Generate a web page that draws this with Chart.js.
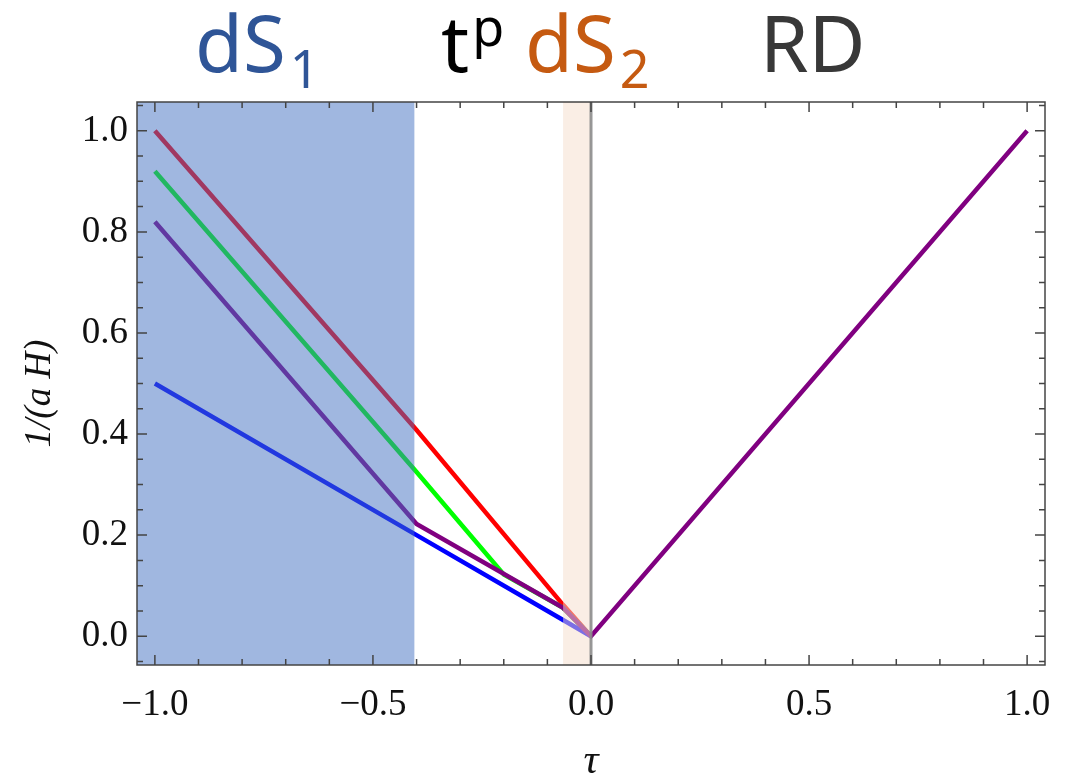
<!DOCTYPE html>
<html>
<head>
<meta charset="utf-8">
<script src="https://cdn.jsdelivr.net/npm/chart.js@4.4.1/dist/chart.umd.min.js"></script>
<style>
  body { margin: 0; background: #fff; }
  #wrap { width: 1076px; height: 781px; }
</style>
</head>
<body>
<div id="wrap"><canvas id="grafik"></canvas></div>
<script>
// curves: conformal time tau vs 1/(aH)
var redTau = [-1.0, -0.4, -0.064, 0.0];
var redVal = [1.0, 0.408, 0.062, 0.0];
var greenTau = [-1.0, -0.4, -0.2, -0.064, 0.0];
var greenVal = [0.92, 0.325, 0.122, 0.056, 0.0];
var purpleTau = [-1.0, -0.4, -0.064, 0.0, 1.0];
var purpleVal = [0.82, 0.222, 0.056, 0.0, 1.0];
var blueTau = [-1.0, -0.4, -0.064, 0.0];
var blueVal = [0.5, 0.2, 0.032, 0.0];

// phase boundaries
var dS1End = -0.405;
var dS2Start = -0.064;

var xTicks = [-1.0, -0.5, 0.0, 0.5, 1.0];
var yTicks = [0.0, 0.2, 0.4, 0.6, 0.8, 1.0];
var xMinor = [-1.0, -0.9, -0.8, -0.7, -0.6, -0.5, -0.4, -0.3, -0.2, -0.1, 0.0, 0.1, 0.2, 0.3, 0.4, 0.5, 0.6, 0.7, 0.8, 0.9, 1.0];
var yMinor = [-0.05, 0.0, 0.05, 0.1, 0.15, 0.2, 0.25, 0.3, 0.35, 0.4, 0.45, 0.5, 0.55, 0.6, 0.65, 0.7, 0.75, 0.8, 0.85, 0.9, 0.95, 1.0, 1.05];

function pts(xs, ys) {
	return xs.map(function (x, i) { return { x: x, y: ys[i] }; });
}

function fmt(v) {
	return (v < 0 ? '\u2212' : '') + Math.abs(v).toFixed(1);
}

var serif = '"Liberation Serif", "DejaVu Serif", serif';
var sans = '"Noto Sans", "Open Sans", sans-serif';

var overlay = {
	id: 'overlay',
	afterDatasetsDraw: function (chart) {
		var ctx = chart.ctx;
		var a = chart.chartArea;
		var xs = chart.scales.x, ys = chart.scales.y;

		ctx.save();
		// phase shading on top of the curves
		var xe = xs.getPixelForValue(dS1End);
		ctx.fillStyle = 'rgba(65, 111, 193, 0.5)';
		ctx.fillRect(a.left, a.top, xe - a.left, a.bottom - a.top);
		var x0 = xs.getPixelForValue(0);
		var xd = xs.getPixelForValue(dS2Start);
		ctx.fillStyle = 'rgba(246, 222, 204, 0.5)';
		ctx.fillRect(xd, a.top, x0 - xd, a.bottom - a.top);

		ctx.strokeStyle = 'rgba(140, 140, 140, 0.9)';
		ctx.lineWidth = 3;
		ctx.beginPath();
		ctx.moveTo(x0, a.top);
		ctx.lineTo(x0, a.bottom);
		ctx.stroke();

		// frame and ticks
		ctx.strokeStyle = '#444';
		ctx.lineWidth = 1.5;
		ctx.strokeRect(a.left, a.top, a.right - a.left, a.bottom - a.top);
		ctx.beginPath();
		xMinor.forEach(function (v) {
			var p = xs.getPixelForValue(v);
			var len = xTicks.indexOf(v) >= 0 ? 10 : 6;
			ctx.moveTo(p, a.bottom); ctx.lineTo(p, a.bottom - len);
			ctx.moveTo(p, a.top); ctx.lineTo(p, a.top + len);
		});
		yMinor.forEach(function (v) {
			var p = ys.getPixelForValue(v);
			var len = yTicks.indexOf(v) >= 0 ? 10 : 6;
			ctx.moveTo(a.left, p); ctx.lineTo(a.left + len, p);
			ctx.moveTo(a.right, p); ctx.lineTo(a.right - len, p);
		});
		ctx.stroke();

		// axis titles
		ctx.fillStyle = '#111';
		ctx.textAlign = 'center';
		ctx.textBaseline = 'middle';
		ctx.font = 'italic 42px ' + serif;
		ctx.fillText('\u03c4', (a.left + a.right) / 2, 762);
		ctx.font = 'italic 37px ' + serif;
		ctx.save();
		ctx.translate(40, (a.top + a.bottom) / 2 + 10);
		ctx.rotate(-Math.PI / 2);
		ctx.fillText('1/(a H)', 0, 0);
		ctx.restore();

		// phase labels above the plot
		function label(x, parts, color) {
			ctx.fillStyle = color;
			ctx.textAlign = 'left';
			ctx.textBaseline = 'alphabetic';
			parts.forEach(function (p) {
				var size = p.dy ? 52 : 78;
				ctx.font = size + 'px ' + sans;
				ctx.fillText(p.t, x, 72 + (p.dy || 0));
				x += ctx.measureText(p.t).width + (p.gap || 0);
			});
		}
		label(195, [{ t: 'dS', gap: 4 }, { t: '1', dy: 16 }], '#2f5597');
		label(441, [{ t: 't', gap: 3 }, { t: 'p', dy: -26 }], '#000');
		label(525, [{ t: 'dS', gap: 4 }, { t: '2', dy: 16 }], '#c55a11');
		label(760, [{ t: 'RD' }], '#383838');
		ctx.restore();
	}
};

var ctx = document.getElementById('grafik');
var chart = new Chart(ctx, {
	type: 'line',
	data: {
		datasets: [
			{ label: 'purple', data: pts(purpleTau, purpleVal), borderColor: '#800080' },
			{ label: 'blue', data: pts(blueTau, blueVal), borderColor: '#0000ff' },
			{ label: 'green', data: pts(greenTau, greenVal), borderColor: '#00ff00' },
			{ label: 'red', data: pts(redTau, redVal), borderColor: '#ff0000' }
		]
	},
	options: {
		responsive: true,
		maintainAspectRatio: false,
		animation: false,
		events: [],
		layout: { padding: { top: 102, right: 31, left: 0, bottom: 0 } },
		elements: {
			line: { borderWidth: 4.5, tension: 0, borderCapStyle: 'butt', borderJoinStyle: 'miter' },
			point: { radius: 0 }
		},
		plugins: { legend: { display: false }, tooltip: { enabled: false } },
		scales: {
			x: {
				type: 'linear',
				min: -1.041,
				max: 1.041,
				grid: { display: false, drawTicks: false },
				border: { display: false },
				afterBuildTicks: function (s) { s.ticks = xTicks.map(function (v) { return { value: v }; }); },
				afterFit: function (s) { s.height = 116; },
				ticks: {
					autoSkip: false,
					maxRotation: 0,
					padding: 18,
					color: '#111',
					font: { family: serif, size: 37 },
					callback: function (v) { return fmt(v); }
				}
			},
			y: {
				type: 'linear',
				min: -0.057,
				max: 1.057,
				grid: { display: false, drawTicks: false },
				border: { display: false },
				afterBuildTicks: function (s) { s.ticks = yTicks.map(function (v) { return { value: v }; }); },
				afterFit: function (s) { s.width = 137; },
				ticks: {
					autoSkip: false,
					padding: 9,
					color: '#111',
					font: { family: serif, size: 37 },
					callback: function (v) { return fmt(v); }
				}
			}
		}
	},
	plugins: [overlay]
});
</script>
</body>
</html>
